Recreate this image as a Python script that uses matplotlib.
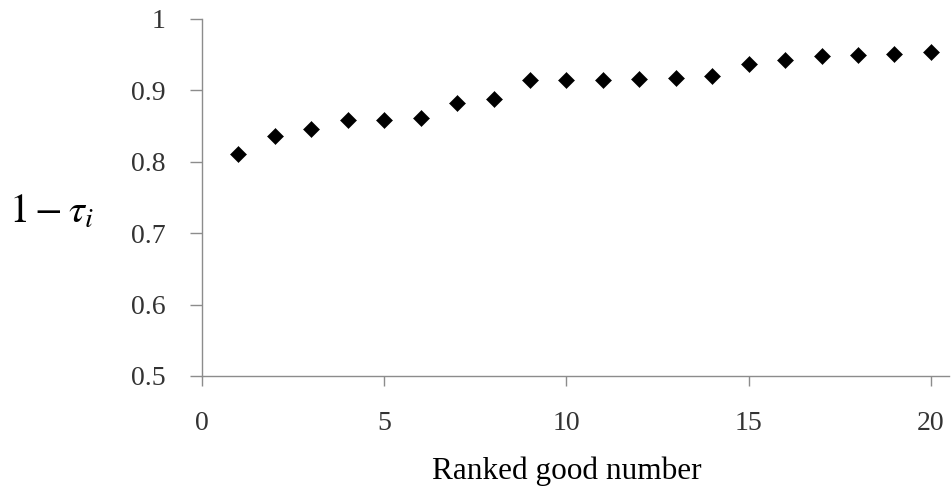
import matplotlib
matplotlib.use("Agg")
import matplotlib.pyplot as plt

# ranked goods and their 1 - tau values
rank = list(range(1, 21))
one_minus_tau = [0.811, 0.836, 0.846, 0.858, 0.858, 0.861, 0.883, 0.888, 0.915, 0.915,
                 0.915, 0.916, 0.918, 0.920, 0.937, 0.942, 0.948, 0.950, 0.951, 0.954]
xticks = [0, 5, 10, 15, 20]
yticks = [0.5, 0.6, 0.7, 0.8, 0.9, 1.0]
ytick_labels = ['0.5', '0.6', '0.7', '0.8', '0.9', '1']

plt.rcParams['mathtext.fontset'] = 'stix'
serif = 'Liberation Serif'
axis_gray = '#8c8c8c'

fig = plt.figure(figsize=(9.52, 4.92), dpi=100)
ax = fig.add_axes([0.2122, 0.2358, 0.7847, 0.7256])

ax.plot(rank, one_minus_tau, linestyle='none', marker='D', markersize=8.3,
        color='black', markeredgewidth=0.4)

ax.set_xlim(0, 20.5)
ax.set_ylim(0.5, 1.0)
ax.set_xticks(xticks)
ax.set_xticklabels([str(t) for t in xticks])
ax.set_yticks(yticks)
ax.set_yticklabels(ytick_labels)

for side in ('top', 'right'):
    ax.spines[side].set_visible(False)
for side in ('left', 'bottom'):
    ax.spines[side].set_color(axis_gray)
    ax.spines[side].set_linewidth(1.0)

ax.tick_params(axis='y', direction='out', length=9, width=1.0, color=axis_gray,
               pad=17, labelsize=20)
ax.tick_params(axis='x', direction='out', length=7, width=1.0, color=axis_gray,
               pad=18, labelsize=20)
for lab in ax.get_xticklabels() + ax.get_yticklabels():
    lab.set_fontfamily(serif)
    lab.set_color('#333333')

# x label centred under the 0-20 data range
ax.text(10, -(479 - 376) / 357, 'Ranked good number', transform=ax.get_xaxis_transform(),
        ha='center', va='baseline', fontsize=22.5, family=serif)
# y label drawn horizontally to the left
fig.text(0.009, 0.547, r'$1-\tau_i$', ha='left', va='baseline', fontsize=29)

fig.savefig('out.png', dpi=100, facecolor='white')
